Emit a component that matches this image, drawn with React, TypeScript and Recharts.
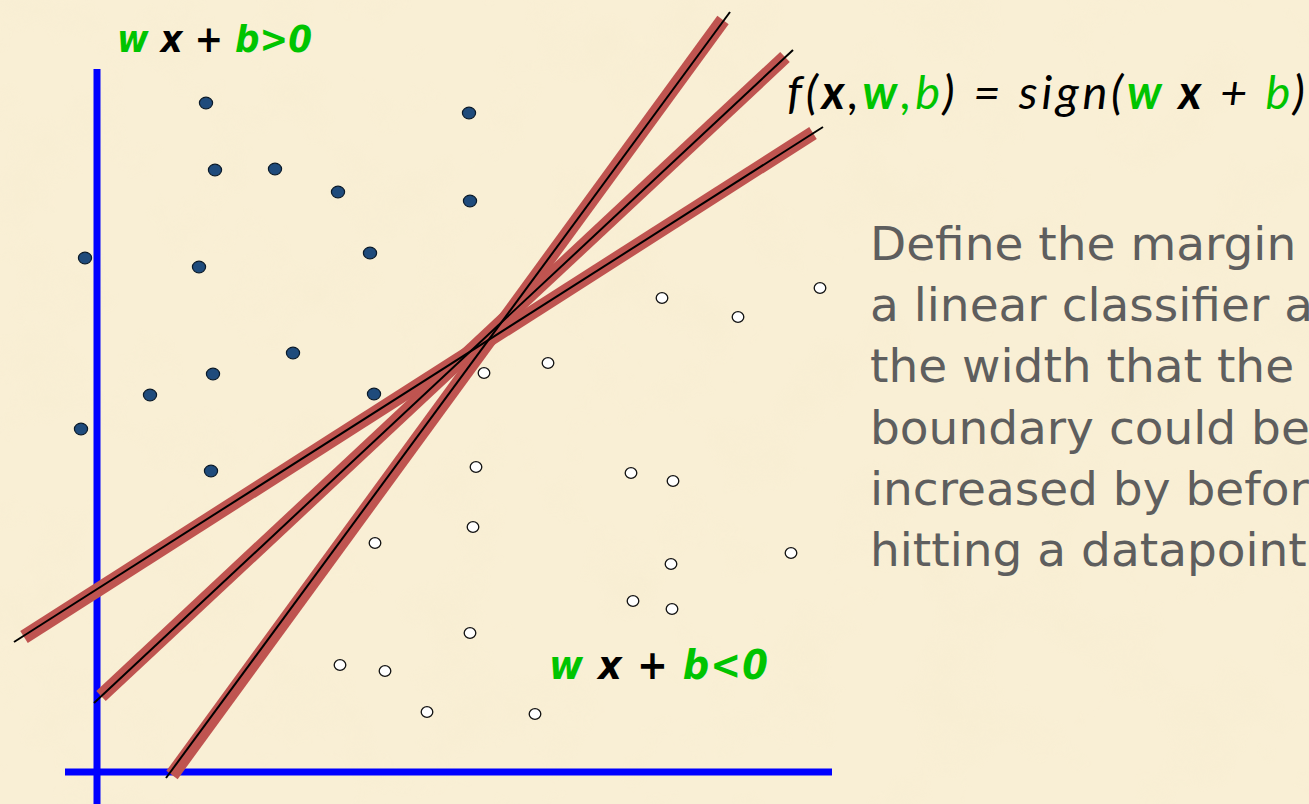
import React from 'react';
import { ScatterChart, Scatter, XAxis, YAxis, ReferenceLine, Customized } from 'recharts';

// Data in picture coordinates (x to the right, y downward)
const positivePoints = [
  { x: 206, y: 103 }, { x: 469, y: 113 }, { x: 215, y: 170 }, { x: 275, y: 169 },
  { x: 338, y: 192 }, { x: 470, y: 201 }, { x: 85, y: 258 }, { x: 199, y: 267 },
  { x: 370, y: 253 }, { x: 293, y: 353 }, { x: 213, y: 374 }, { x: 150, y: 395 },
  { x: 374, y: 394 }, { x: 81, y: 429 }, { x: 211, y: 471 },
];

const negativePoints = [
  { x: 662, y: 298 }, { x: 738, y: 317 }, { x: 820, y: 288 }, { x: 548, y: 363 },
  { x: 484, y: 373 }, { x: 476, y: 467 }, { x: 631, y: 473 }, { x: 673, y: 481 },
  { x: 473, y: 527 }, { x: 375, y: 543 }, { x: 671, y: 564 }, { x: 791, y: 553 },
  { x: 633, y: 601 }, { x: 672, y: 609 }, { x: 470, y: 633 }, { x: 340, y: 665 },
  { x: 385, y: 671 }, { x: 427, y: 712 }, { x: 535, y: 714 },
];

// Candidate boundaries: red band ends and black line ends
const boundaryBands = [
  [{ x: 172, y: 775 }, { x: 723, y: 20 }],
  [{ x: 101, y: 696 }, { x: 785, y: 57 }],
  [{ x: 24, y: 637 }, { x: 813, y: 133 }],
];
const boundaryLines = [
  [{ x: 166, y: 778 }, { x: 730, y: 12 }],
  [{ x: 94, y: 703 }, { x: 793, y: 50 }],
  [{ x: 14, y: 642 }, { x: 823, y: 127 }],
];

const axisLines = [
  [{ x: 97, y: 69 }, { x: 97, y: 804 }],
  [{ x: 65, y: 772 }, { x: 832, y: 772 }],
];

const paragraphLines = [
  'Define the margin of',
  'a linear classifier as',
  'the width that the',
  'boundary could be',
  'increased by before',
  'hitting a datapoint.',
];

const GREEN = '#00C400';
const W = 1309;
const H = 804;

const FilledDot = (props: any) => (
  <ellipse cx={props.cx} cy={props.cy} rx={6.6} ry={5.8} fill="#1F4B7C" stroke="#0A1A2A" strokeWidth={1.2} />
);
const OpenDot = (props: any) => (
  <ellipse cx={props.cx} cy={props.cy} rx={5.8} ry={5.4} fill="#FFFFFF" stroke="#111" strokeWidth={1.3} />
);

const Labels = () => {
  const lf = "'DejaVu Sans Condensed', 'DejaVu Sans', sans-serif";
  return (
    <g>
      <text x={117} y={52} fontFamily={lf} fontWeight="bold" fontStyle="italic" fontSize={38} textLength={195} lengthAdjust="spacing">
        <tspan fill={GREEN}>w</tspan>
        <tspan fill="#000"> x + </tspan>
        <tspan fill={GREEN}>b&gt;0</tspan>
      </text>
      <text x={549} y={679} fontFamily={lf} fontWeight="bold" fontStyle="italic" fontSize={41} textLength={219} lengthAdjust="spacing">
        <tspan fill={GREEN}>w</tspan>
        <tspan fill="#000"> x + </tspan>
        <tspan fill={GREEN}>b&lt;0</tspan>
      </text>
      <text x={787} y={109} fontFamily="Lato, 'Open Sans', sans-serif" fontStyle="italic" fontSize={47} fill="#000" textLength={518} lengthAdjust="spacing">
        <tspan>f(</tspan>
        <tspan fontWeight="bold">x</tspan>
        <tspan>,</tspan>
        <tspan fill={GREEN} fontWeight="bold">w</tspan>
        <tspan fill={GREEN}>,b</tspan>
        <tspan>) = sign(</tspan>
        <tspan fill={GREEN} fontWeight="bold">w</tspan>
        <tspan fontWeight="bold"> x</tspan>
        <tspan> + </tspan>
        <tspan fill={GREEN}>b</tspan>
        <tspan>)</tspan>
      </text>
      {paragraphLines.map((t, i) => (
        <text key={i} x={870} y={260 + i * 61.2} fontFamily="'DejaVu Sans', sans-serif" fontSize={47} fill="#5E5E5E">
          {t}
        </text>
      ))}
    </g>
  );
};

export default function App() {
  return (
    <div style={{ position: 'absolute', left: 0, top: 0, width: W, height: H, overflow: 'hidden', background: '#F9EFD5' }}>
      <svg width={W} height={H} style={{ position: 'absolute', left: 0, top: 0 }}>
        <defs>
          <filter id="paper" x="0" y="0" width="100%" height="100%">
            <feTurbulence type="fractalNoise" baseFrequency="0.012" numOctaves={4} seed={7} />
            <feColorMatrix type="matrix" values="0 0 0 0 0.90  0 0 0 0 0.82  0 0 0 0 0.60  1.1 0 0 0 -0.55" />
          </filter>
        </defs>
        <rect x={0} y={0} width={W} height={H} fill="#F9EFD5" />
        <rect x={0} y={0} width={W} height={H} filter="url(#paper)" opacity={0.55} />
      </svg>
      <div style={{ position: 'absolute', left: 0, top: 0 }}>
        <ScatterChart width={W} height={H} margin={{ top: 0, right: 0, bottom: 0, left: 0 }}>
          <XAxis type="number" dataKey="x" domain={[0, W]} hide allowDataOverflow />
          <YAxis type="number" dataKey="y" domain={[0, H]} reversed hide allowDataOverflow />
          {axisLines.map((seg, i) => (
            <ReferenceLine key={'a' + i} segment={seg} stroke="#0000FF" strokeWidth={7} ifOverflow="visible" />
          ))}
          <Scatter data={positivePoints} shape={FilledDot} isAnimationActive={false} />
          <Scatter data={negativePoints} shape={OpenDot} isAnimationActive={false} />
          {boundaryBands.map((seg, i) => (
            <ReferenceLine key={'r' + i} segment={seg} stroke="#BF5450" strokeWidth={14} ifOverflow="visible" />
          ))}
          {boundaryLines.map((seg, i) => (
            <ReferenceLine key={'k' + i} segment={seg} stroke="#000" strokeWidth={2} ifOverflow="visible" />
          ))}
          <Customized component={Labels} />
        </ScatterChart>
      </div>
    </div>
  );
}
